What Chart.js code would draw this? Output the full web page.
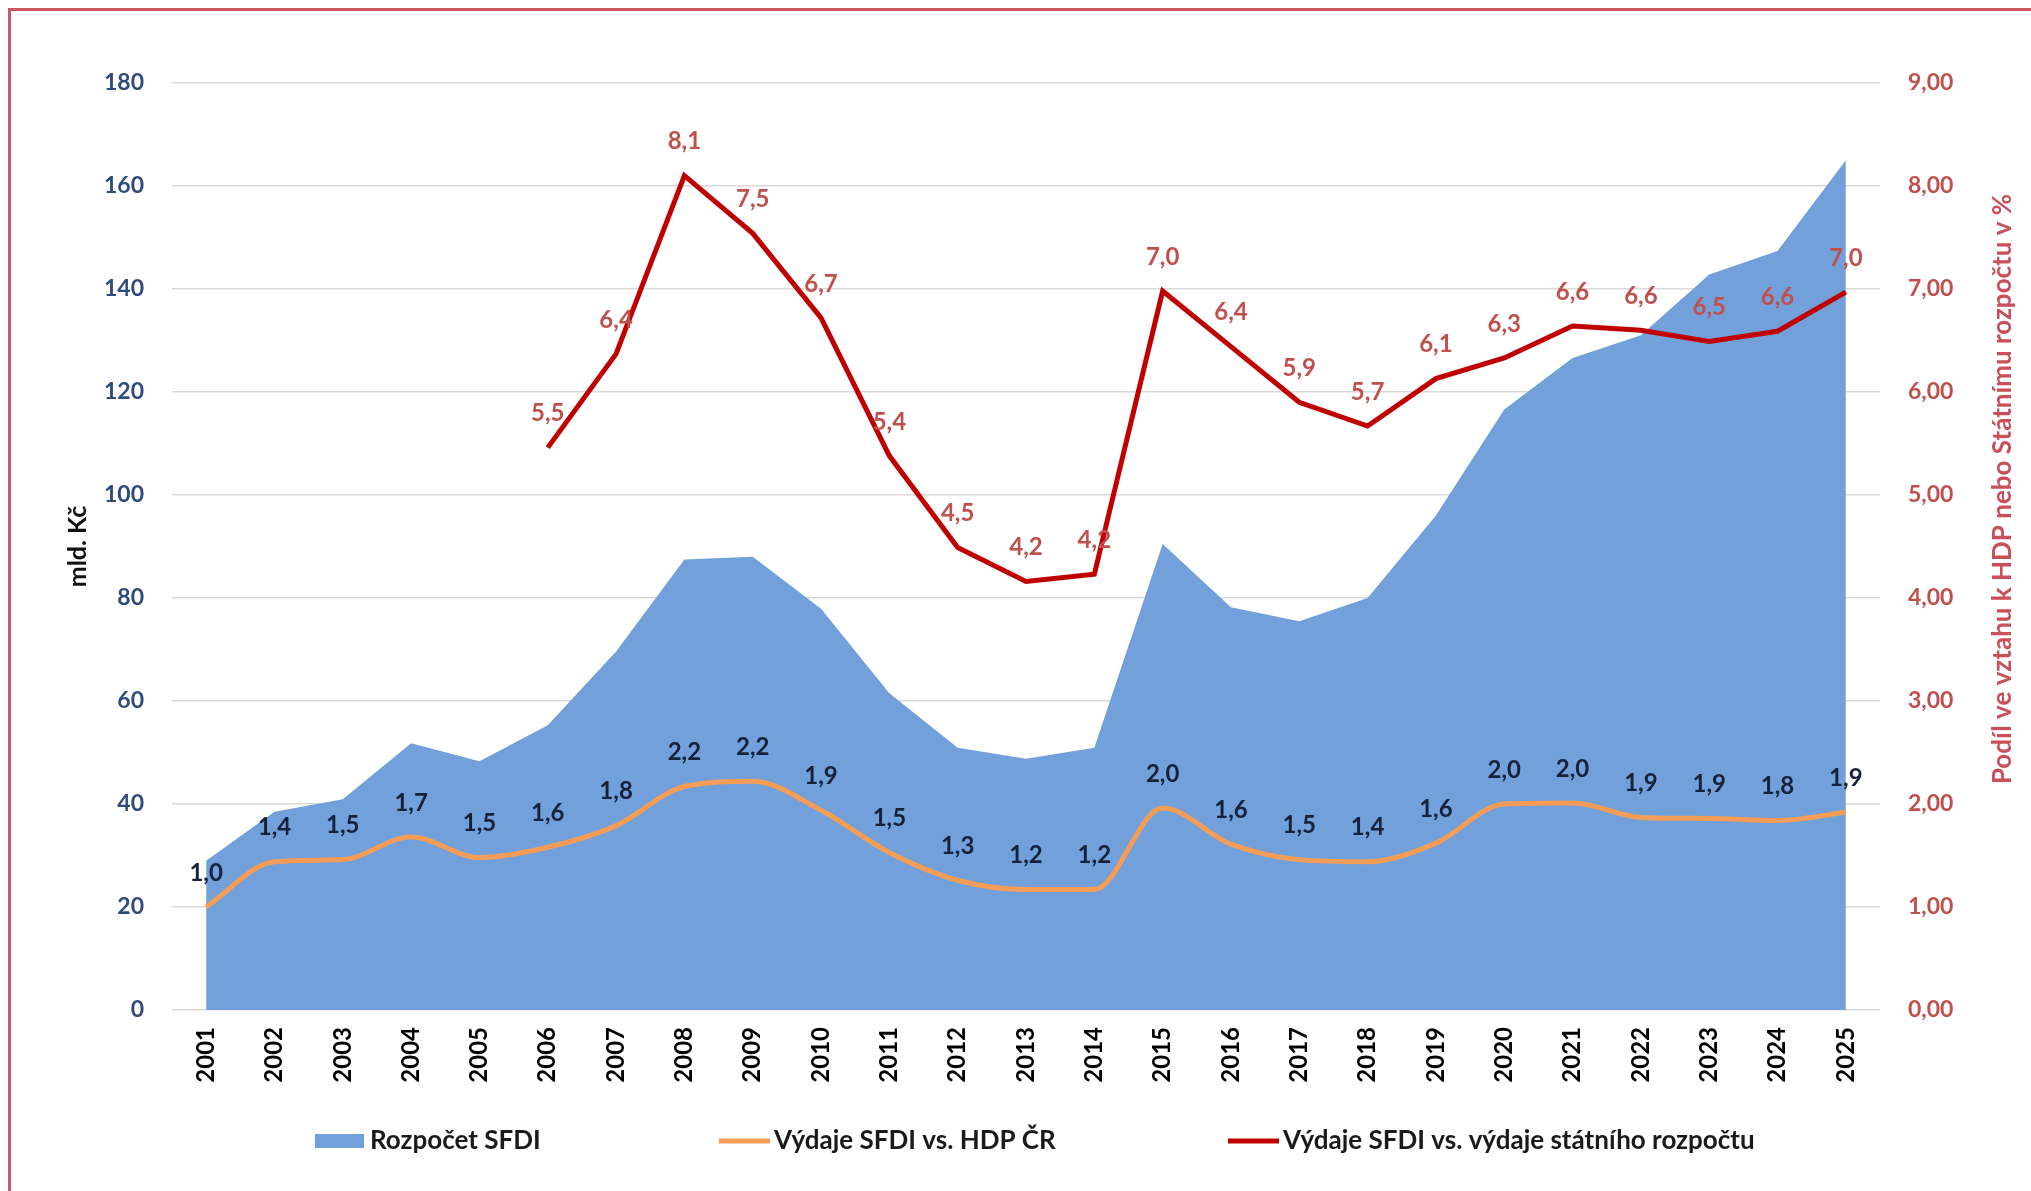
<!DOCTYPE html>
<html><head><meta charset="utf-8">
<script src="https://cdn.jsdelivr.net/npm/chart.js@4.4.1/dist/chart.umd.min.js"></script>
<style>
html,body{margin:0;padding:0;background:#fff;}
#wrap{position:relative;width:2031px;height:1191px;overflow:hidden;background:#fff;}
canvas{position:absolute;left:0;top:0;}
.bt{position:absolute;left:8px;top:8px;width:2023px;height:3px;background:#CF5468;}
.bl{position:absolute;left:8px;top:8px;width:3px;height:1183px;background:#CF5468;}
</style></head><body>
<div id="wrap"><canvas id="c" width="2031" height="1191"></canvas><div class="bt"></div><div class="bl"></div></div>
<script>
const years = ['2001','2002','2003','2004','2005','2006','2007','2008','2009','2010','2011','2012','2013','2014','2015','2016','2017','2018','2019','2020','2021','2022','2023','2024','2025'];
// Rozpočet SFDI (mld. Kč)
const budget = [29, 38.5, 40.9, 51.8, 48.3, 55.3, 69.6, 87.5, 88, 77.9, 61.5, 50.9, 48.8, 50.9, 90.5, 78.2, 75.5, 80, 96, 116.6, 126.6, 131, 142.8, 147.4, 165];
// Výdaje SFDI vs. HDP ČR (%)
const gdpShare = [1.0, 1.44, 1.46, 1.68, 1.48, 1.58, 1.79, 2.17, 2.22, 1.94, 1.53, 1.26, 1.17, 1.17, 1.96, 1.61, 1.46, 1.44, 1.62, 2.0, 2.01, 1.87, 1.86, 1.84, 1.92];
// Výdaje SFDI vs. výdaje státního rozpočtu (%)
const stateShare = [null, null, null, null, null, 5.46, 6.37, 8.10, 7.54, 6.72, 5.38, 4.49, 4.16, 4.23, 6.98, 6.44, 5.9, 5.67, 6.13, 6.33, 6.64, 6.6, 6.49, 6.59, 6.97];
const leftTicks = {min: 0, max: 180, step: 20};
const rightTicks = {min: 0, max: 9, step: 1};
const seriesNames = ['Rozpočet SFDI', 'Výdaje SFDI vs. HDP ČR', 'Výdaje SFDI vs. výdaje státního rozpočtu'];
const leftTitle = 'mld. Kč';
const rightTitle = 'Podíl ve vztahu k HDP nebo Státnímu rozpočtu v %';

const FONT = 'Lato, "Open Sans", sans-serif';
const fmt = (v, d) => v.toFixed(d).replace('.', ',');

const extrasPlugin = {
  id: 'extras',
  afterDatasetsDraw(chart) {
    const ctx = chart.ctx;
    ctx.save();
    ctx.textAlign = 'center';
    ctx.textBaseline = 'middle';
    ctx.font = 'bold 24px ' + FONT;
    chart.data.datasets.forEach((ds, i) => {
      if (!ds.labelColor) return;
      const meta = chart.getDatasetMeta(i);
      ctx.fillStyle = ds.labelColor;
      meta.data.forEach((pt, j) => {
        const v = ds.data[j];
        if (v == null) return;
        ctx.fillText(fmt(v, 1), pt.x, pt.y - 34);
      });
    });
    ctx.restore();
  },
  afterDraw(chart) {
    const ctx = chart.ctx;
    const area = chart.chartArea;
    ctx.save();
    ctx.textAlign = 'center';
    ctx.textBaseline = 'middle';
    ctx.font = 'bold 25px ' + FONT;
    ctx.fillStyle = '#111111';
    ctx.translate(78, (area.top + area.bottom) / 2);
    ctx.rotate(-Math.PI / 2);
    ctx.fillText(leftTitle, 0, 0);
    ctx.restore();
    ctx.save();
    ctx.textAlign = 'center';
    ctx.textBaseline = 'middle';
    ctx.font = 'bold 26px ' + FONT;
    ctx.fillStyle = '#C9505A';
    ctx.translate(2003, 489);
    ctx.rotate(-Math.PI / 2);
    ctx.fillText(rightTitle, 0, 0);
    ctx.restore();
    // legend
    ctx.save();
    const ly = 1141;
    const items = [
      {x: 315, kind: 'box', ds: chart.data.datasets[2]},
      {x: 719, kind: 'line', ds: chart.data.datasets[1]},
      {x: 1228, kind: 'line', ds: chart.data.datasets[0]}
    ];
    ctx.font = 'bold 26px ' + FONT;
    ctx.textBaseline = 'middle';
    ctx.textAlign = 'left';
    items.forEach(it => {
      if (it.kind === 'box') {
        ctx.fillStyle = it.ds.backgroundColor;
        ctx.fillRect(it.x, ly - 7, 49, 14);
      } else {
        ctx.strokeStyle = it.ds.borderColor;
        ctx.lineWidth = 5;
        ctx.beginPath();
        ctx.moveTo(it.x, ly);
        ctx.lineTo(it.x + 51, ly);
        ctx.stroke();
      }
      ctx.fillStyle = '#1a1a1a';
      ctx.fillText(it.ds.label, it.x + 55, ly);
    });
    ctx.restore();
  }
};

new Chart(document.getElementById('c'), {
  type: 'line',
  data: {
    labels: years,
    datasets: [
      {
        label: seriesNames[2], data: stateShare, yAxisID: 'y2', order: 1,
        borderColor: '#C00000', borderWidth: 5, pointRadius: 0, tension: 0, fill: false,
        spanGaps: false, labelColor: '#C0504D'
      },
      {
        label: seriesNames[1], data: gdpShare, yAxisID: 'y2', order: 2,
        borderColor: '#F59D56', borderWidth: 5, pointRadius: 0, cubicInterpolationMode: 'monotone', fill: false,
        labelColor: '#16213A'
      },
      {
        label: seriesNames[0], data: budget, yAxisID: 'y', order: 3,
        borderColor: 'rgba(0,0,0,0)', borderWidth: 0, backgroundColor: '#71A0DA',
        pointRadius: 0, tension: 0, fill: 'origin'
      }
    ]
  },
  options: {
    responsive: false,
    animation: false,
    layout: {padding: {top: 83, bottom: 81, left: 0, right: 0}},
    plugins: {legend: {display: false}, tooltip: {enabled: false}},
    scales: {
      x: {
        type: 'category', offset: true,
        grid: {display: false, drawTicks: false}, border: {display: false},
        ticks: {autoSkip: false, maxRotation: 90, minRotation: 90, padding: 17, color: '#000',
          font: {family: FONT, weight: 'bold', size: 24}},
        afterFit: s => { s.height = 100; }
      },
      y: {
        position: 'left', min: leftTicks.min, max: leftTicks.max,
        ticks: {stepSize: leftTicks.step, padding: 28, color: '#2F4B7C',
          font: {family: FONT, weight: 'bold', size: 23}},
        grid: {color: '#D9D9D9', lineWidth: 1.5, drawTicks: false}, border: {display: false},
        afterFit: s => { s.width = 172; }
      },
      y2: {
        position: 'right', min: rightTicks.min, max: rightTicks.max,
        ticks: {stepSize: rightTicks.step, padding: 28, color: '#C0504D',
          font: {family: FONT, weight: 'bold', size: 23},
          callback: v => fmt(v, 2)},
        grid: {display: false, drawTicks: false}, border: {display: false},
        afterFit: s => { s.width = 151; }
      }
    }
  },
  plugins: [extrasPlugin]
});
</script>
</body></html>
